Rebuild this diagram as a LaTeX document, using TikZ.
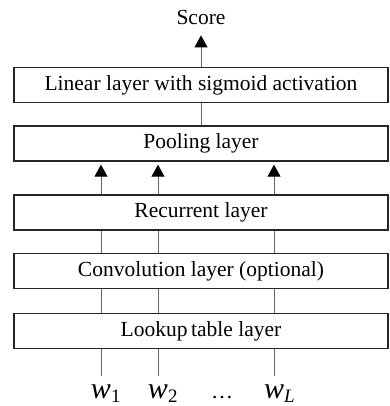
\documentclass[tikz,border=0pt]{standalone}
\usepackage{fontspec}
\setmainfont{Liberation Serif}
\usetikzlibrary{arrows.meta}
% lowered index after a word symbol
\newcommand\wordidx[1]{\rlap{\raisebox{-4.5pt}{\fontsize{19}{20}\selectfont\upshape #1}}}
\begin{document}
\begin{tikzpicture}[x=1pt,y=-1pt,
  layer/.style={draw=black!85,line width=1.4pt,minimum width=374pt,
    minimum height=35pt,inner sep=0pt,font=\fontsize{21.5}{24}\selectfont},
  wire/.style={draw=black!60,line width=1pt},
  up/.style={wire,-{Triangle[length=12pt,width=13pt,color=black]}},
  word/.style={anchor=base,inner sep=0pt,font=\fontsize{30}{32}\selectfont}]
\useasboundingbox (0,0) rectangle (389,406);

% stack of layers
\node[layer] (lin)  at (201,85)    {Linear layer with sigmoid activation};
\node[layer] (pool) at (201,143.5) {Pooling layer};
\node[layer] (rec)  at (201,212.5) {Recurrent layer};
\node[layer] (conv) at (201,271)   {Convolution layer (optional)};
\node[layer] (look) at (201,331)   {Lookup\,table layer};

% output
\node[anchor=base,inner xsep=0pt,inner ysep=10pt,
  font=\fontsize{21.5}{24}\selectfont] (score) at (201,25) {Score};

% input words
\node[word] (w1) at (101,398) {\itshape w\wordidx{1}};
\node[word] (w2) at (158,398) {\itshape w\wordidx{2}};
\node[word] (wL) at (274,398) {\itshape w\wordidx{\itshape L}};
\node[anchor=base,inner sep=0pt,font=\fontsize{22}{24}\selectfont] (dots) at (222,398) {\dots};

% connections
\foreach \w in {w1,w2,wL}{
  \draw[wire,shorten >=8pt] (look.south -| \w.north) -- (\w.north);
  \draw[wire] (look.north -| \w.north) -- (conv.south -| \w.north);
  \draw[wire] (conv.north -| \w.north) -- (rec.south -| \w.north);
  \draw[up,shorten >=3pt] (rec.north -| \w.north) -- (pool.south -| \w.north);
}
\draw[wire] (pool.north) -- (lin.south);
\draw[up] (lin.north) -- (score.south);
\end{tikzpicture}
\end{document}
